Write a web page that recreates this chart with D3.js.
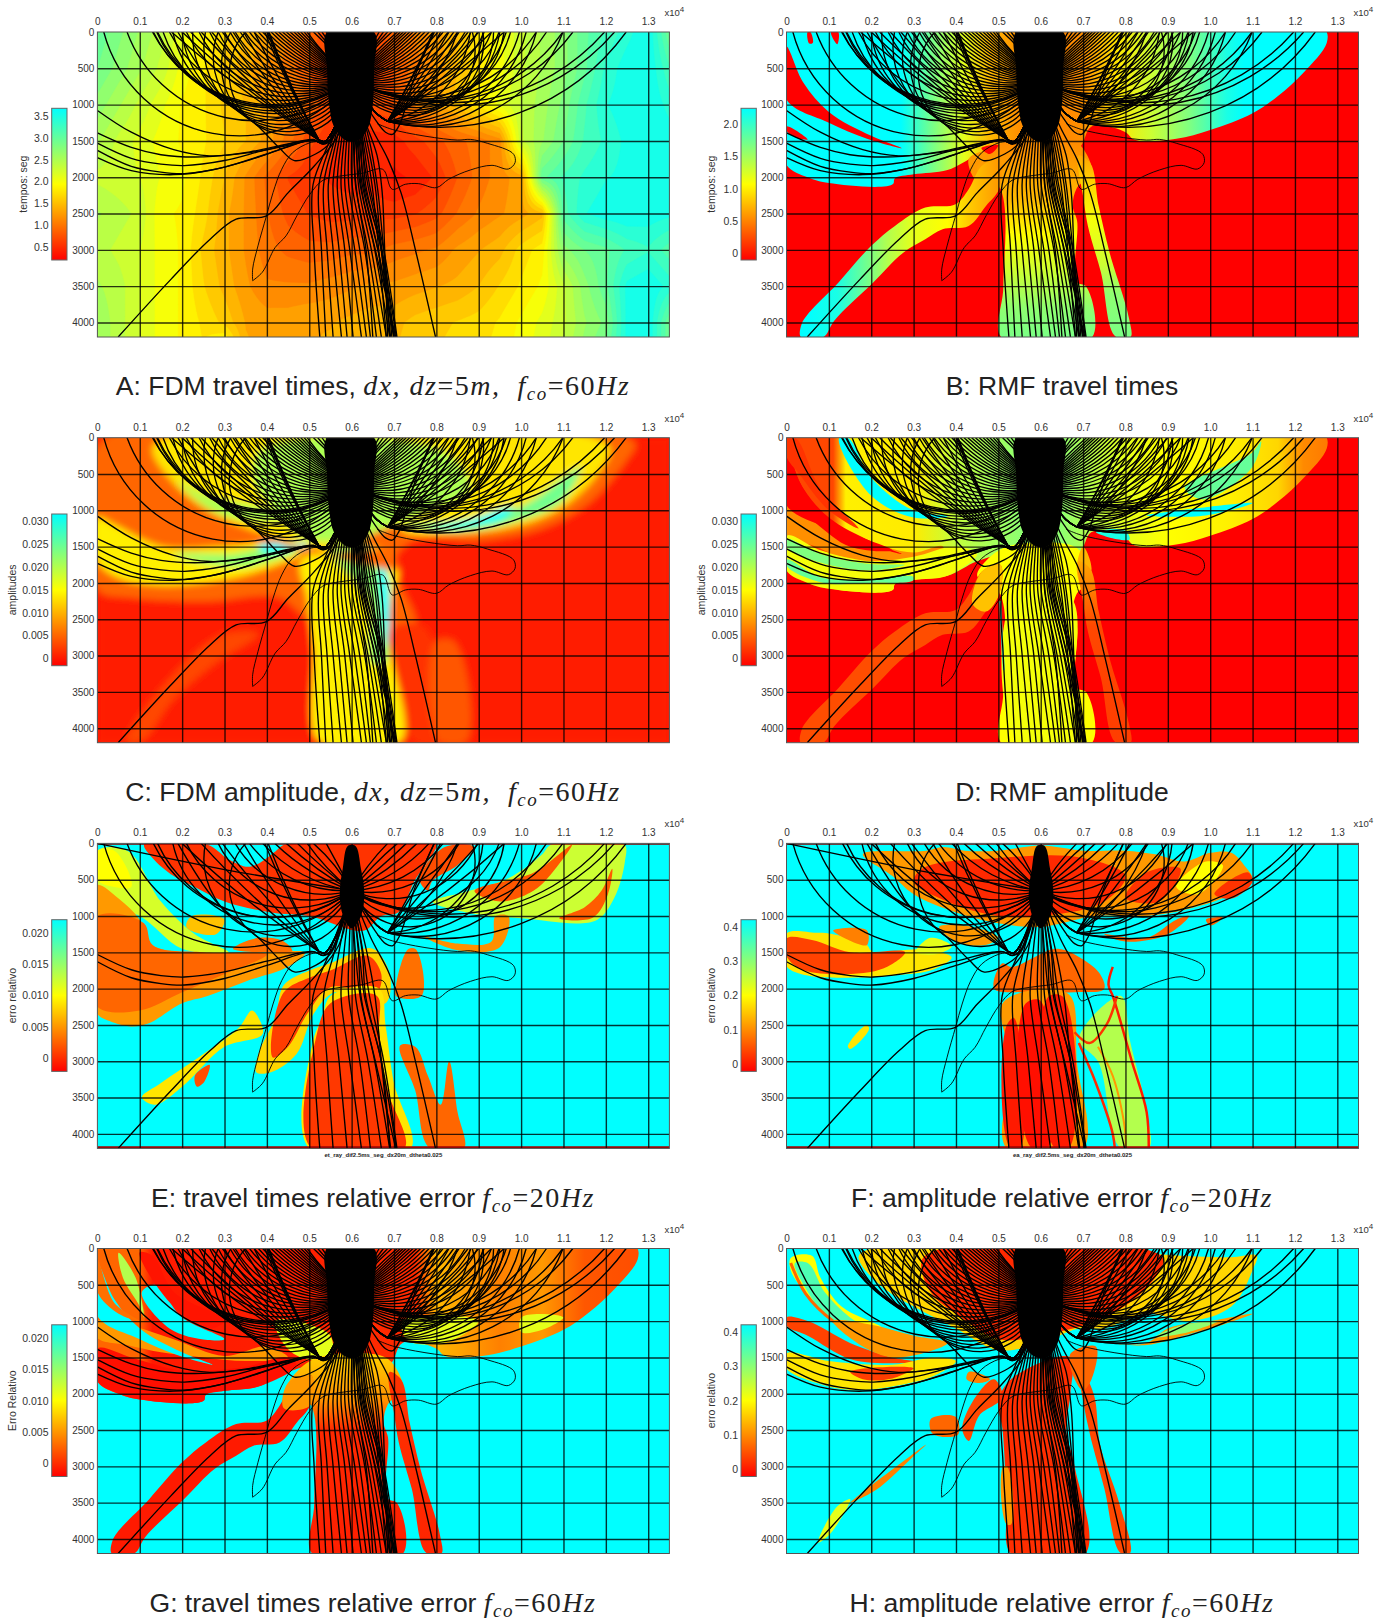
<!DOCTYPE html>
<html><head><meta charset="utf-8">
<script src="https://cdn.jsdelivr.net/npm/d3@7/dist/d3.min.js"></script>
<style>html,body{margin:0;background:#fff}svg{display:block}text{font-family:"Liberation Sans",Arial,sans-serif}</style>
</head><body><svg id="c" width="1390" height="1620"></svg>
<script>
// ---------- axis data ----------
const xTicks=[0,1000,2000,3000,4000,5000,6000,7000,8000,9000,10000,11000,12000,13000];
const zTicks=[0,500,1000,1500,2000,2500,3000,3500,4000];
const panelLefts=[97.4,786.5], panelTops=[32,437.7,843.4,1248.5];
// ---------- Panel A travel time grid (s), rows z=0..4000,4500; columns x=0..13500 step 500 ----------
const gridZ=[0,500,1000,1500,2000,2500,3000,3500,4000,4500];
const gridA=[
[3.0,2.8,2.6,2.4,2.1,1.9,1.7,1.5,1.3,1.1,.9,.7,.5,.7,.9,1.1,1.3,1.5,1.8,2.0,2.3,2.5,2.7,3.0,3.2,3.4,3.6,2.9],
[2.9,2.7,2.5,2.3,2.0,1.8,1.6,1.4,1.2,1.0,.8,.55,.4,.55,.8,1.0,1.25,1.5,1.75,2.0,2.3,2.5,2.7,3.0,3.35,3.55,3.6,3.2],
[2.7,2.5,2.3,2.1,1.9,1.8,1.6,1.5,1.3,1.2,.9,.7,.55,.7,.8,1.1,1.3,1.55,1.8,2.1,2.35,2.55,2.8,3.15,3.45,3.55,3.6,3.4],
[2.5,2.3,2.15,2.0,1.9,1.8,1.65,1.5,1.3,1.0,.7,.55,.45,.45,.45,.6,.75,.9,1.0,1.15,2.3,2.6,2.9,3.2,3.35,3.5,3.6,3.55],
[2.3,2.25,2.2,2.05,1.95,1.75,1.5,1.2,.9,.65,.55,.5,.45,.45,.35,.4,.55,.8,1.0,1.15,1.3,3.0,3.2,3.35,3.45,3.5,3.6,3.55],
[2.5,2.4,2.3,1.95,1.9,1.7,1.4,1.2,.95,.75,.65,.6,.6,.6,.6,.65,.75,.95,1.1,1.2,1.3,1.45,3.1,3.45,3.55,3.6,3.55,3.5],
[2.4,2.3,2.2,2.0,1.9,1.6,1.4,1.2,1.0,.9,.85,.85,.9,.9,1.0,1.05,1.1,1.25,1.35,1.45,1.7,1.85,2.7,2.9,3.0,3.2,3.3,3.1],
[2.5,2.4,2.2,2.0,1.9,1.65,1.45,1.25,1.1,1.1,1.1,1.15,1.2,1.25,1.25,1.3,1.35,1.4,1.5,1.65,1.8,1.95,2.3,2.7,3.0,3.5,3.6,3.4],
[2.6,2.4,2.2,2.0,1.9,1.75,1.6,1.35,1.3,1.3,1.35,1.35,1.4,1.45,1.45,1.55,1.6,1.65,1.7,1.8,1.95,2.1,2.3,2.6,2.8,3.5,3.6,2.9],
[2.6,2.4,2.2,2.0,1.9,1.8,2.2,1.4,1.3,1.3,1.35,1.4,1.45,1.5,1.5,1.6,1.65,1.7,1.75,1.85,2.0,2.15,2.4,2.7,3.0,3.5,3.6,2.9]];
// ---------- shared region outlines (x m, z m) ----------
const topLobe=[[0,0],[12750,0],[12750,150],[12200,560],[11600,880],[11000,1120],[10000,1350],[9200,1470],[8200,1480],[8000,1380],[7200,1300],[6900,1600],[6000,1700],[5200,1600],[4500,1700],[3800,1900],[3000,1960],[2550,2020],[2520,2090],[1000,2080],[500,2000],[0,1830]];
const wedge=[[0,200],[400,700],[1000,1100],[2000,1430],[2720,1600],[1900,1470],[1000,1250],[0,930]];
const sliver=[[0,1300],[500,1480],[250,1460],[0,1360]];
const midBand=[[4700,1700],[5200,1500],[6800,1500],[7100,1700],[7200,1950],[6850,2150],[6756,2400],[6858,2600],[6858,3450],[7063,3500],[7216,4200],[5066,4200],[5118,3500],[5015,2120],[4500,1900]];
const leftBand=[[4900,1750],[5050,1750],[5015,2166],[4708,2395],[4299,2670],[3685,2715],[3275,2853],[2763,3035],[2047,3448],[1126,3975],[870,4200],[338,4200],[358,4020],[1228,3448],[2000,2944],[2559,2670],[3275,2418],[3990,2372],[4299,2166],[4600,1850]];
const rightBand=[[6900,1700],[7164,1800],[7369,2395],[7625,3036],[8086,3950],[8120,4200],[7779,4200],[7420,3310],[7113,2670],[7011,2303]];
const clumpDense=[[5420,0],[6530,0],[6530,500],[6500,1000],[6400,1300],[6190,1480],[6000,1510],[5830,1480],[5580,1300],[5470,1000],[5420,500]];
const clumpSparse=[[5920,30],[6080,30],[6220,350],[6300,700],[6220,1000],[6000,1170],[5800,1000],[5720,700],[5790,350]];
const gBand={a:'z',s:[[1500,.27],[2300,.36],[2800,.5],[3300,.6],[3800,.72],[4200,.76]]};
const gLeft={a:'x',s:[[500,1],[1200,.95],[1800,.8],[2400,.65],[3000,.55],[3800,.5],[4300,.4],[5000,.3]]};
const gRight={a:'z',s:[[1600,.3],[2100,.42],[2600,.52],[3200,.6],[3600,.72],[4200,.76]]};
// ---------- layers per panel: v = position on colour ramp 0 red, .5 yellow, 1 cyan ----------
const layersB=[
 {p:topLobe,g:{a:'x',s:[[0,1],[2700,1],[3400,.78],[4200,.55],[4800,.36],[5500,.28],[6000,.25],[7000,.28],[7800,.45],[8600,.6],[9500,.75],[10400,.95],[10800,1],[13000,1]]}},
 {p:wedge,v:0},{p:sliver,v:0},
 {p:[[500,0],[560,0],[620,150],[540,160]],v:0},{p:[[1050,0],[1220,0],[1200,170]],v:0},
 {p:[[4300,1750],[4700,1650],[4900,1950],[4500,2050]],v:.3},
 {p:midBand,g:gBand},{p:leftBand,g:gLeft},{p:rightBand,g:gRight},
 {p:[[4600,1600],[5000,1560],[4800,1680]],v:0}];
const layersD=[
 {p:topLobe,g:{a:'x',s:[[0,.14],[1100,.14],[1400,.47],[3000,.46],[4000,.62],[5500,.72],[6500,.72],[8000,.55],[9000,.5],[10500,.47],[11600,.42],[12200,.27],[12750,.24]]}},
 {p:[[0,950],[700,1080],[1700,1370],[3000,1580],[3700,1500],[3600,1750],[3000,1880],[1500,1700],[700,1500],[0,1330]],v:.28},
 {p:[[0,1350],[800,1550],[2000,1700],[3000,1640],[4000,1500],[4500,1600],[3800,1900],[3000,1960],[2550,2020],[2520,2090],[1000,2080],[500,2000],[0,1830]],v:.52},
 {p:[[0,1400],[800,1600],[2000,1740],[2800,1750],[2000,1830],[800,1720],[0,1500]],v:.75},
 {p:[[0,1680],[800,1920],[1900,1950],[3000,1920],[3000,1960],[2000,2000],[800,1990],[0,1760]],v:.8},
 {p:[[1250,0],[1450,0],[2000,550],[3000,1000],[3800,1080],[3000,1100],[2000,800]],v:1},
 {p:wedge,v:0},{p:[[0,100],[300,600],[700,950],[1400,1270],[2500,1550],[1500,1500],[700,1180],[0,820]],v:0},
 {p:[[0,0],[200,0],[800,700],[1700,1250],[1000,1000],[300,500],[0,260]],v:.1},
 {p:[[9400,700],[11000,200],[11200,50],[11000,400],[9800,850]],v:.8},
 {p:[[8500,1070],[10000,950],[11000,900],[9900,1070]],v:1},
 {p:[[7300,1300],[8000,1280],[8100,1400],[7800,1400]],v:.95},
 {p:midBand,g:{a:'z',s:[[1500,.5],[4200,.5]]}},
 {p:[[5400,2200],[6700,2200],[6780,3500],[6900,4200],[5500,4200]],v:.52},
 {p:[[7000,1500],[7200,1800],[7000,2100],[6850,1800]],v:.35},
 {p:leftBand,v:.15},{p:[[4900,1750],[5050,1750],[5015,2166],[4708,2395],[4400,2300],[4600,1850]],v:.38},
 {p:rightBand,g:{a:'z',s:[[1600,.35],[2200,.22],[2600,.14],[4200,.12]]}},
 {s:[[5040,2250],[5080,2700],[5130,3200]],v:.9,w:2}];
const layersC=[
 {p:[[0,0],[13500,0],[13500,4200],[0,4200]],v:.06,r:1},
 {p:[[0,100],[12700,100],[12500,300],[11600,900],[10500,1250],[9000,1420],[7500,1400],[7000,1700],[7500,2600],[6800,2700],[5000,2500],[4300,2200],[2600,2250],[800,2200],[0,2100]],v:.2},
 {p:[[7000,2600],[7700,2600],[8200,4200],[7500,4200]],v:.1},{p:[[8000,2800],[8400,2800],[8700,4200],[8100,4200]],v:.17},
 {p:[[3000,2700],[3800,2700],[2800,3100],[1800,3600],[1000,4200],[700,4200],[1900,3200]],v:.14},
 {p:[[1300,150],[12100,150],[11800,500],[11000,950],[10000,1200],[8500,1320],[7200,1280],[7000,1100],[6000,1500],[5000,1500],[4600,1430],[3800,1300],[2600,1000],[1800,620]],v:.45},
 {p:[[3800,200],[8200,200],[8800,700],[7400,1100],[6000,1400],[5000,1400],[4200,1000],[3700,600]],v:.66},
 {p:[[1900,600],[2600,800],[3800,950],[4800,1100],[3700,1150],[2700,1000]],v:.66},
 {p:[[7200,1200],[8500,1150],[10000,950],[11000,550],[11400,400],[11000,850],[10000,1120],[8500,1290]],v:.78},
 {p:[[7800,1230],[8800,1130],[9800,950],[9600,1100],[8600,1230]],v:1},
 {p:[[0,1100],[400,1200],[1500,1500],[3000,1500],[4000,1450],[5000,1480],[4800,1600],[4000,1800],[3000,1950],[1500,2030],[500,1930],[0,1700]],v:.47},
 {p:[[1800,1600],[3200,1600],[4200,1480],[5000,1480],[4500,1620],[3300,1780]],v:.72},
 {p:[[3800,1490],[5000,1470],[4500,1560],[3900,1570]],v:1},
 {p:[[4800,1700],[5400,1550],[6800,1550],[7100,1800],[6950,2200],[6850,2700],[7150,4200],[5250,4200],[5100,2900],[4950,2200]],v:.47},
 {p:[[5500,1550],[6600,1550],[6800,2400],[6800,3100],[6500,3100],[6400,2200]],v:.72},
 {p:[[6650,1550],[6880,2000],[6820,2900],[6700,2400]],v:1},
 {p:[[3900,1350],[5100,1600],[6300,1550],[6800,1550],[7100,1800]],v:.2}];
const layersE=[
 {p:[[0,100],[700,100],[1500,800],[2300,1250],[3100,1500],[2000,1450],[1000,1000],[0,800]],v:.58},
 {p:[[0,100],[400,100],[800,600],[400,600],[0,500]],v:.5},
 {p:[[0,570],[500,760],[1000,1050],[1300,1400],[2000,1500],[3500,1530],[4900,1510],[4500,1700],[3500,1900],[2600,2100],[2000,2200],[1200,2480],[800,2520],[300,2450],[0,2350]],v:.3},
 {p:[[0,1000],[1100,1100],[1300,1400],[2500,1500],[4000,1530],[3000,1800],[2000,2050],[1000,2300],[0,2250]],v:.2},
 {p:[[2200,1010],[3000,1050],[2800,1250],[2100,1150]],v:.38},
 {p:[[3200,1450],[3800,1300],[4400,1350],[4600,1480],[3900,1500]],v:.22},
 {p:[[1100,20],[2600,20],[3100,220],[3600,320],[4200,110],[4400,20],[8000,20],[7800,250],[7500,500],[7100,950],[6700,1000],[6300,1200],[5000,1000],[4100,950],[3000,800],[2300,600],[1800,450],[1300,200]],v:.1},
 {p:[[7600,500],[8200,50],[8900,50],[8500,300],[7900,520],[7800,650]],v:.15},
 {p:[[7900,800],[8600,680],[9700,480],[10500,150],[10700,20],[12450,20],[12450,250],[12200,750],[11800,1050],[10000,1030],[8700,950]],v:.6},
 {p:[[8900,660],[10300,400],[11000,100],[11200,20],[10900,280],[10300,650],[9500,800]],v:.17},
 {p:[[10900,1030],[11700,1020],[12050,700],[12150,350],[11900,650],[11500,880]],v:.18},
 {p:[[7700,1280],[8500,1380],[9300,1350],[9400,1000],[9700,1000],[9500,1430],[8500,1470]],v:.28},
 {p:[[1050,3500],[1350,3600],[2000,3350],[3000,2800],[3900,2620],[3800,2400],[3650,2300],[3350,2530],[2500,2900],[1500,3300]],v:.45},
 {p:[[2300,3200],[2650,3050],[2500,3300],[2350,3350]],v:.15},
 {p:[[4100,3150],[3750,3150],[3800,2900],[4200,2400],[4400,1950],[5000,1750],[5500,1650],[6500,1450],[6900,1800],[6800,2200],[5600,2050],[5100,2350],[4700,2900]],v:.42},
 {p:[[4150,2950],[4400,2050],[5000,1850],[5500,1750],[6400,1550],[6700,1800],[6600,2050],[5500,1980],[4950,2350],[4500,2800]],v:.12},
 {p:[[5000,4200],[5100,2700],[5300,2400],[5500,2100],[6650,2000],[6800,2500],[7000,3300],[7400,4200]],v:.45},
 {p:[[5050,4200],[5150,2700],[5500,2200],[6600,2100],[6650,2600],[6850,3400],[7250,4200]],v:.11},
 {p:[[7150,2780],[7500,2800],[7800,3200],[8100,3600],[8300,3000],[8500,3700],[8650,4200],[7850,4200],[7500,3400]],v:.2},
 {p:[[7050,1950],[7350,1450],[7500,1450],[7650,2100],[7050,2100]],v:.22},
 {p:[[0,0],[13500,0],[13500,20],[0,20]],v:-.15,r:1},{p:[[0,4170],[13500,4170],[13500,4200],[0,4200]],v:-.1,r:1}];
const layersF=[
 {p:[[0,1240],[700,1230],[1000,1240],[1900,1400],[2000,1480],[3200,1460],[3900,1570],[3500,1730],[2500,1820],[1300,1850],[500,1820],[0,1690]],v:.45},
 {p:[[0,1310],[600,1330],[1500,1500],[2800,1500],[2300,1720],[1000,1800],[300,1720],[0,1550]],v:.13},
 {p:[[1100,1200],[1900,1200],[1900,1400]],v:.25},
 {p:[[1800,150],[3300,100],[3700,50],[4200,100],[5000,100],[6000,30],[7000,100],[8000,100],[8700,150],[9400,250],[10000,130],[10500,130],[10800,300],[11000,500],[10500,700],[9500,900],[8500,1000],[7300,1000],[6000,1150],[5000,1100],[4000,950],[3000,700],[2500,450]],v:.3},
 {p:[[3200,350],[5000,200],[7000,200],[8000,450],[7500,800],[6000,1000],[5000,1000],[3800,800],[3000,520]],v:.08},
 {p:[[8000,750],[8500,400],[9300,350],[8800,800]],v:.1},
 {p:[[9200,600],[9900,250],[10300,300],[9700,700]],v:.5},
 {p:[[10100,700],[10900,400],[11000,520],[10500,760]],v:.1},
 {p:[[3600,1150],[4400,1150],[5000,1300],[4700,1400],[4000,1350]],v:.3},
 {p:[[7500,1250],[8500,1300],[9200,1050],[9500,1000],[9000,1250],[8000,1350]],v:.2},
 {p:[[9900,1050],[10300,1020],[10000,1130]],v:.2},
 {p:[[3050,1500],[3400,1300],[3900,1420],[3500,1530]],v:.55},
 {p:[[1450,2800],[1900,2500],[1950,2550],[1500,2830]],v:.45},
 {p:[[4900,2000],[5100,1650],[5300,1700],[6400,1450],[7000,1600],[7400,1800],[7500,2000],[6800,2050],[5500,2050]],v:.2},
 {p:[[5100,2200],[6300,2000],[6700,2100],[6850,3000],[7000,4200],[5200,4200],[5300,3000]],v:.3},
 {p:[[5200,2500],[5350,2400],[5500,4200],[5300,4200]],v:.05},{p:[[5650,2200],[5950,2150],[6150,4200],[5800,4200]],v:.03},
 {p:[[6200,2100],[6500,2100],[6650,4200],[6350,4200]],v:.05},
 {p:[[7900,2100],[8100,2700],[8500,3700],[8550,4200],[7900,4200],[7350,3000],[6900,2700]],v:.65},
 {s:[[7700,1700],[7600,1950],[7700,2100],[8150,3000],[8500,3700],[8550,4200]],v:.05,w:2.5},
 {s:[[7800,2100],[7550,2500],[7150,2750],[6800,2600]],v:.1,w:2.5},
 {s:[[6900,2750],[7300,3300],[7700,4000],[7750,4200]],v:.08,w:2.5},
 {s:[[7350,2800],[7700,3200],[8000,4000],[8000,4200]],v:.3,w:2},
 {p:[[0,0],[13500,0],[13500,20],[0,20]],v:-.15,r:1},{p:[[0,4170],[13500,4170],[13500,4200],[0,4200]],v:-.1,r:1}];
const layersG=[
 {p:topLobe,g:{a:'x',s:[[0,.2],[1000,.2],[1300,.05],[5000,.06],[6000,.08],[7500,.08],[8000,.36],[9500,.25],[10500,.3],[11500,.17],[12750,.15]]}},
 {p:[[0,1000],[700,1050],[1800,1250],[3000,1480],[4000,1350],[4500,1500],[3500,1550],[2500,1500],[1500,1430],[700,1330],[0,1230]],v:.3},
 {p:[[0,1380],[800,1500],[2000,1680],[3400,1640],[4500,1500],[4700,1600],[3800,1900],[3000,1960],[2550,2020],[2520,2090],[1000,2080],[500,2000],[0,1830]],v:.03},
 {p:[[4200,1000],[5500,1200],[5500,1500],[4800,1500],[4400,1320]],v:.55},
 {p:[[7200,1000],[9000,1000],[8300,1280],[7300,1260]],v:.55},
 {p:[[10000,950],[11000,950],[10500,1120],[10000,1150]],v:.55},
 {p:[[0,200],[500,200],[1000,650],[1100,1000],[0,900]],v:.2},
 {p:wedge,v:1},{p:[[0,150],[400,750],[1000,1000],[500,900],[0,600]],v:.22},
 {p:[[500,60],[900,400],[1100,950],[1000,800],[600,400]],v:.65},
 {p:[[1050,600],[1350,500],[2000,950],[3000,1250],[2600,1260],[1700,1100]],v:1},
 {p:[[1300,100],[1000,50],[1800,800],[2700,1100],[3000,1000],[1800,600]],v:.04},
 {p:midBand,g:{a:'z',s:[[1500,.4],[2100,.28],[2500,.08],[4200,.06]]}},
 {p:leftBand,v:.05},{p:[[4500,1850],[5050,1750],[5015,2166],[4400,2200]],v:.3},
 {p:rightBand,g:{a:'z',s:[[1600,.1],[4200,.07]]}}];
const layersH=[
 {p:[[100,130],[600,100],[800,400],[1300,800],[2300,1100],[3000,1450],[2600,1450],[1500,1100],[600,700],[100,300]],v:.5},
 {p:[[200,200],[500,200],[900,600],[1500,950],[2400,1250],[2000,1240],[1000,950],[400,500]],v:.85},
 {s:[[100,200],[450,620],[1100,1000],[2000,1300],[2900,1450]],v:.2,w:3},
 {p:[[1700,120],[10500,120],[11100,100],[11000,300],[10500,800],[9500,1000],[8500,900],[7500,1100],[6900,1100],[6000,1300],[5000,1400],[4000,1100],[3000,800],[2200,500]],v:.42},
 {p:[[3200,150],[8900,150],[8400,600],[7500,950],[6000,1200],[5000,1250],[4000,900],[3400,600]],v:.08},
 {p:[[0,950],[500,1000],[1500,1300],[2500,1500],[3100,1560],[2500,1580],[1500,1520],[500,1200],[0,1060]],v:.13},
 {p:[[1100,1000],[2000,1050],[3000,1200],[3800,1300],[3300,1430],[2500,1500],[1800,1350]],v:.3},
 {p:[[0,1450],[1000,1550],[2500,1600],[3500,1500],[4000,1550],[3500,1750],[2500,1900],[1500,1950],[700,1850],[0,1650]],v:.45},
 {p:[[1500,1700],[3000,1650],[2500,1790],[1800,1800]],v:.12},
 {p:[[4900,1800],[4400,2100],[4150,2500],[4300,2650],[4550,2300],[5100,2050]],v:.14},
 {p:[[3400,2350],[4000,2320],[4050,2560],[3450,2550]],v:.2},
 {p:[[4300,1700],[4800,1800],[4600,1850],[4250,1800]],v:.25},
 {p:[[3300,2700],[2600,3000],[1700,3400],[1500,3500],[2100,3330],[3000,2860]],v:.25},
 {p:[[1200,3550],[1500,3450],[1000,3950],[750,4050]],v:.55},
 {p:[[5000,2100],[5300,1800],[6700,1500],[6700,2000],[6600,2500],[6800,3000],[7050,4200],[5300,4200],[5200,3500],[5100,2500]],v:.09},
 {p:[[5120,3000],[5200,3000],[5300,3800],[5200,3800]],v:.3},
 {p:[[6900,1600],[7250,2000],[7400,2700],[7850,3500],[8100,4200],[7900,4200],[7500,3300],[7100,2400]],v:.14},
 {p:[[6700,1450],[7300,1350],[7200,1800],[7000,1950],[6800,1800]],v:.2},
 {p:[[7800,1320],[8500,1300],[9000,1100],[10000,1000],[11000,900],[10300,1050],[9500,1180],[8500,1330]],v:.3},
 {p:[[8700,1220],[9200,1080],[10200,1000],[9500,1150]],v:.72}];
// ---------- rays (x m, z m) ----------
const source=[6000,650];
const fanLeftZ=[40,80,120,160,195,230,265,300,335,370,405,440,475,510,545,580,615,650,685,720,750,780,810,840,870,900,930,945,965,1000,1040,1090,1140,1200,1260,1320,1380];
const fanLeftL=[4950,4880,4800,4720,4640,4550,4460,4370,4280,4190,4100,4000,3900,3800,3700,3590,3480,3370,3250,3130,3000,2850,2650,2400,2100,1700,1300,1320,1400,1550,1780,2000,2250,2550,2850,3150,3500];
const fanRightZ=[40,80,120,160,200,240,280,320,360,400,440,480,520,560,600,640,680,720,760,800,840,880,920,960,1000,1040,1080,1120];
const fanRightL=[7080,7150,7220,7290,7370,7450,7540,7630,7730,7830,7930,8040,8160,8280,8410,8540,8680,8820,8970,9130,9300,9480,9650,9750,9600,9350,9100,8850];
const nearFan=[[5400,5700,320],[5300,5650,300],[5200,5600,280],[5100,5550,270],[6650,6330,320],[6750,6380,300],[6850,6430,280],[6950,6480,270]];
const wideFan=[[700,3800,1220,1],[150,3300,1430,1],[1420,3800,1010,1],[12206,9600,930,1],[11970,9400,900,1],[11222,9000,880,0],[10986,8900,860,1],[10600,8700,840,1],[10360,8500,820,0]];
const foldLeftP=[5230,1490];
const foldLeftL=[4050,4030,4000,3950,3700,3450,3200,2950,2700,2450,2200,2000,1750];
const foldRightP=[6850,1230];
const foldRightL=[7950,7920,8100,8300,8500,8750,9000,9300,9600];
const rightFar=[[12480,8000,1310],[10990,7800,1300],[10360,7700,1280],[10120,7600,1250],[9960,7500,1230],[9500,7500,1200],[9100,7400,1180],[8800,7300,1150],[8500,7100,1130]];
const leftLong=[
 {r:[[0,1080],[800,1380],[1800,1620],[2650,1705],[3600,1660],[4500,1560],[5100,1490],[5300,1530],[5480,1490],[5800,1000],[6000,650]],sparse:0},
 {r:[[0,1390],[800,1590],[1500,1690],[2500,1720],[3600,1650],[4500,1540],[5100,1480],[5300,1530],[5500,1480],[5800,1000],[6000,650]],sparse:0},
 {r:[[0,1530],[800,1740],[1500,1820],[2050,1840],[3000,1770],[4000,1620],[5100,1490],[5320,1540],[5500,1490],[5800,1000],[6000,650]],sparse:1},
 {r:[[0,1630],[800,1850],[1500,1930],[2050,1950],[3000,1860],[4000,1680],[5100,1490],[5340,1545],[5520,1480],[5800,1000],[6000,650]],sparse:1},
 {r:[[0,1730],[800,1910],[1800,1965],[2700,1900],[3600,1760],[4400,1600],[5050,1490],[5300,1520],[5500,1480],[5800,1000],[6000,650]],sparse:0},
 {r:[[1900,0],[2800,800],[3800,1300],[4300,1600],[4650,1770],[5150,1680],[5500,1520],[5800,1100],[6000,650]],sparse:1},
 {r:[[3990,2532],[3275,2578],[2661,2853],[1740,3403],[490,4200]],pre:[[6000,650],[5700,1400],[5118,1845],[4504,2212]],sparse:1},
 {r:[[7980,4200],[7520,3036],[7165,2212],[6858,1754],[6450,1295],[6000,650]],sparse:1},
 {r:[[7950,0],[7500,600],[7113,1296],[6960,1410],[6800,1380],[6550,1200],[6000,650]],sparse:1},
 {r:[[6850,4200],[6780,3000],[6720,2200],[6600,1700],[6300,1200],[6000,650]],sparse:0},
 {r:[[0,0],[3000,360],[6000,650]],sparse:2}];
const downX1500=[5480,5530,5590,5640,5700,5760,5820,5880,5940,6000,6060,6110,6160,6210,6250,6040,6090,6130,6180,6230,6270,6310,6360,6420];
const downX2100=[5090,5230,5340,5450,5560,5660,5750,5840,5930,6010,6090,6160,6220,6280,6330,6100,6200,6250,6300,6380,6420,6480,6550,6600];
const downX3000=[5115,5288,5421,5563,5704,5838,5956,6074,6192,6310,6388,6466,6545,6624,6702,6340,6560,6620,6700,6720,6760,6640,6700,6760];
const downX4200=[5249,5390,5563,5760,5893,6035,6231,6349,6443,6585,6702,6820,6899,6993,7056,6500,7040,7000,6900,6950,7070,6820,6920,7000];
const frontA=[[3664,3425],[3664,3265],[3790,2945],[3990,2532],[4145,2212],[4350,1890],[4606,1662],[5015,1525],[5300,1500]];
const frontB=[[3664,3425],[3890,3310],[4196,2967],[4452,2807],[4708,2532],[5015,2234],[5322,2042],[5732,1983],[6244,1946],[6735,1891],[6960,2166],[7267,2097],[7574,2088],[8004,2143],[8290,2028],[8802,1900],[9314,1836],[9703,1886],[9857,1800],[9826,1685],[9212,1534],[8802,1479],[8495,1488],[6960,1342],[6600,1260]];
// ---------- labels ----------
const colorStops=["#ff0000","#ffff00","#00ffff"];
const panels=[
 {id:'A',c:0,r:0,layers:null,dense:1,ticks:[.5,1,1.5,2,2.5,3,3.5],fmt:'.1f',lo:.195,hi:3.68,lab:'tempos: seg',labX:27,tx:48.5},
 {id:'B',c:1,r:0,layers:layersB,dense:1,ticks:[0,.5,1,1.5,2],fmt:null,lo:-.11,hi:2.25,lab:'tempos: seg',labX:715,tx:738,base:0},
 {id:'C',c:0,r:1,layers:layersC,blur:3.5,dense:1,ticks:[0,.005,.01,.015,.02,.025,.03],fmt:'c',lo:-.0016,hi:.0316,lab:'amplitudes',labX:15.5,tx:48.5,base:.05},
 {id:'D',c:1,r:1,layers:layersD,dense:1,ticks:[0,.005,.01,.015,.02,.025,.03],fmt:'c',lo:-.0016,hi:.0316,lab:'amplitudes',labX:705,tx:738,base:0},
 {id:'E',c:0,r:2,layers:layersE,dense:0,ticks:[0,.005,.01,.015,.02],fmt:'c',lo:-.0021,hi:.0221,lab:'erro relativo',labX:15.5,tx:48.5,base:1,note:'et_ray_dif2.5ms_seg_dx20m_dtheta0.025'},
 {id:'F',c:1,r:2,layers:layersF,dense:0,ticks:[0,.1,.2,.3,.4],fmt:null,lo:-.0209,hi:.421,lab:'erro relativo',labX:715,tx:738,base:1,note:'ea_ray_dif2.5ms_seg_dx20m_dtheta0.025'},
 {id:'G',c:0,r:3,layers:layersG,dense:1,ticks:[0,.005,.01,.015,.02],fmt:'c',lo:-.0021,hi:.0221,lab:'Erro Relativo',labX:15.5,tx:48.5,base:1},
 {id:'H',c:1,r:3,layers:layersH,dense:1,ticks:[0,.1,.2,.3,.4],fmt:null,lo:-.0209,hi:.421,lab:'erro relativo',labX:715,tx:738,base:1}];
const titles={
 A:[['A: FDM travel times, ','s'],['dx, dz','i'],['=','m'],['5','m'],['m, ','i'],[' ','m'],['f','i'],['co','b'],['=','m'],['60','m'],['Hz','i']],
 B:[['B: RMF travel times','s']],
 C:[['C: FDM amplitude, ','s'],['dx, dz','i'],['=','m'],['5','m'],['m, ','i'],[' ','m'],['f','i'],['co','b'],['=','m'],['60','m'],['Hz','i']],
 D:[['D: RMF amplitude','s']],
 E:[['E: travel times relative error ','s'],['f','i'],['co','b'],['=','m'],['20','m'],['Hz','i']],
 F:[['F: amplitude relative error ','s'],['f','i'],['co','b'],['=','m'],['20','m'],['Hz','i']],
 G:[['G: travel times relative error ','s'],['f','i'],['co','b'],['=','m'],['60','m'],['Hz','i']],
 H:[['H: amplitude relative error ','s'],['f','i'],['co','b'],['=','m'],['60','m'],['Hz','i']]};
const titleY=[394.8,801,1207,1612], titleX=[373,1062];
// ---------- drawing ----------
const W=572,H=305;
const svg=d3.select('#c'),defs=svg.append('defs');
const x=d3.scaleLinear().domain([0,13500]).range([0,W]);
const z=d3.scaleLinear().domain([0,4200]).range([0,H]);
const ramp=d3.scaleLinear().domain([0,.5,1]).range(colorStops).clamp(true);
const col=v=>v<0?d3.rgb(200+v*400,0,0)+'':ramp(v);
defs.append('filter').attr('id','b35').attr('x','-5%').attr('y','-5%').attr('width','110%').attr('height','110%').append('feGaussianBlur').attr('stdDeviation',3.5);
let gid=0;
const closed=d3.line().x(d=>x(d[0])).y(d=>z(d[1])).curve(d3.curveCatmullRomClosed.alpha(.6));
const rectLine=d3.line().x(d=>x(d[0])).y(d=>z(d[1])).curve(d3.curveLinearClosed);
const open=d3.line().x(d=>x(d[0])).y(d=>z(d[1])).curve(d3.curveCatmullRom.alpha(.6));
function gradFill(g){
 const id='g'+(gid++),ps=g.s.map(d=>d[0]),a=ps[0],b=ps[ps.length-1];
 const lg=defs.append('linearGradient').attr('id',id).attr('gradientUnits','userSpaceOnUse');
 if(g.a==='x')lg.attr('x1',x(a)).attr('x2',x(b)).attr('y1',0).attr('y2',0);
 else lg.attr('x1',0).attr('x2',0).attr('y1',z(a)).attr('y2',z(b));
 g.s.forEach(d=>lg.append('stop').attr('offset',(d[0]-a)/(b-a)).attr('stop-color',col(d[1])));
 return `url(#${id})`;
}
function arc3(P,M,L){
 const a=[x(P[0]),z(P[1])],b=[x(M[0]),z(M[1])],c=[x(L[0]),z(L[1])];
 const d=2*(a[0]*(b[1]-c[1])+b[0]*(c[1]-a[1])+c[0]*(a[1]-b[1]));
 if(Math.abs(d)<1e-6)return `M${a}L${c}`;
 const s=p=>p[0]*p[0]+p[1]*p[1];
 const ux=(s(a)*(b[1]-c[1])+s(b)*(c[1]-a[1])+s(c)*(a[1]-b[1]))/d,uy=(s(a)*(c[0]-b[0])+s(b)*(a[0]-c[0])+s(c)*(b[0]-a[0]))/d;
 const r=Math.hypot(a[0]-ux,a[1]-uy);
 const cr=(b[0]-a[0])*(c[1]-a[1])-(b[1]-a[1])*(c[0]-a[0]);
 const sweep=cr>0?1:0;
 const norm=t=>(t%(2*Math.PI)+2*Math.PI)%(2*Math.PI);
 const a0=Math.atan2(a[1]-uy,a[0]-ux),a2=Math.atan2(c[1]-uy,c[0]-ux);
 const span=sweep?norm(a2-a0):norm(a0-a2);
 return `M${a[0]},${a[1]}A${r},${r} 0 ${span>Math.PI?1:0} ${sweep} ${c[0]},${c[1]}`;
}
function drawRays(g,dense){
 const ray=d=>g.append('path').attr('d',d).attr('fill','none').attr('stroke','#000').attr('stroke-width',1.35);
 const k=dense?1:3;
 g.append('path').attr('d',closed(dense?clumpDense:clumpSparse)).attr('fill','#000');
 fanLeftL.forEach((L,i)=>{if(i%k===0)ray(arc3(source,[5000,fanLeftZ[i]],[L,0]));});
 fanRightL.forEach((L,i)=>{if(i%k===0)ray(arc3(source,[7000,fanRightZ[i]],[L,0]));});
 nearFan.forEach((f,i)=>{if(i%k===0)ray(arc3(source,[f[1],f[2]],[f[0],0]));});
 wideFan.forEach(f=>{if(dense||f[3])ray(arc3(source,[f[1],f[2]],[f[0],0]));});
 foldLeftL.forEach((L,i)=>{if(dense||i%2===1){
  ray(open([source,[5650,1250],[5360,1510],foldLeftP]));
  ray(arc3(foldLeftP,[(foldLeftP[0]+L)/2,(foldLeftP[1])/2+70],[L,0]));}});
 foldRightL.forEach((L,i)=>{if(dense||i%2===0){
  ray(open([source,[6600,1130],foldRightP]));
  ray(arc3(foldRightP,[(foldRightP[0]+L)/2,foldRightP[1]/2+50],[L,0]));}});
 rightFar.forEach((f,i)=>{if(dense||i%2===0)ray(arc3(foldRightP,[f[1],f[2]],[f[0],0]));});
 leftLong.forEach(o=>{if(dense?o.sparse!==2:o.sparse>0)ray(open((o.pre||[]).concat(o.r)));});
 downX4200.forEach((v,i)=>{if(dense||i%2===0)ray(open([source,[downX1500[i],1500],[downX2100[i],2100],[downX3000[i],3000],[v,4200]]));});
 [frontA,frontB].forEach(f=>g.append('path').attr('d',open(f)).attr('fill','none').attr('stroke','#000').attr('stroke-width',.9));
}
function drawField(g){
 const m=6,nx=gridA[0].length,ny=gridA.length,W2=(nx-1)*m+1,H2=(ny-1)*m+1,vals=[];
 for(let j=0;j<H2;j++)for(let i=0;i<W2;i++){
  const fx=i/m,fy=j/m,i0=Math.min(Math.floor(fx),nx-2),j0=Math.min(Math.floor(fy),ny-2),tx=fx-i0,ty=fy-j0;
  vals.push(d3.interpolateNumber(d3.interpolateNumber(gridA[j0][i0],gridA[j0][i0+1])(tx),d3.interpolateNumber(gridA[j0+1][i0],gridA[j0+1][i0+1])(tx))(ty));}
 const th=d3.range(.1,3.75,.14);
 const cs=d3.contours().size([W2,H2]).thresholds(th)(vals);
 const gx=d3.scaleLinear().domain([0,W2-1]).range([x(0),x(13500)]),gz=d3.scaleLinear().domain([0,H2-1]).range([z(0),z(4500)]);
 const path=d3.geoPath(d3.geoTransform({point(a,b){this.stream.point(gx(a-.5),gz(b-.5));}}));
 const tc=d3.scaleLinear().domain([.195,3.68]).range([0,1]);
 g.selectAll('path.f').data(cs).join('path').attr('d',path).attr('fill',d=>ramp(tc(d.value+.07))).attr('stroke',d=>ramp(tc(d.value+.07))).attr('stroke-width',.4);
}
panels.forEach((p,idx)=>{
 const ox=panelLefts[p.c],oy=panelTops[p.r];
 const cid='clip'+p.id;
 defs.append('clipPath').attr('id',cid).append('rect').attr('width',W).attr('height',H);
 const root=svg.append('g').attr('transform',`translate(${ox},${oy})`);
 const pg=root.append('g').attr('clip-path',`url(#${cid})`);
 if(p.layers){
  pg.append('rect').attr('width',W).attr('height',H).attr('fill',col(p.base));
  const lg=pg.append('g'); if(p.blur)lg.attr('filter','url(#b35)');
  p.layers.forEach(l=>{
   if(l.s){lg.append('path').attr('d',open(l.s)).attr('fill','none').attr('stroke',col(l.v)).attr('stroke-width',l.w);return;}
   lg.append('path').attr('d',(l.r?rectLine:closed)(l.p)).attr('fill',l.g?gradFill(l.g):col(l.v));
  });
 } else drawField(pg);
 drawRays(pg,p.dense);
 // grid with D3 axes
 const gx=pg.append('g').attr('transform',`translate(0,${H})`).call(d3.axisTop(x).tickValues(xTicks.slice(1)).tickSize(H).tickFormat(''));
 const gy=pg.append('g').call(d3.axisRight(z).tickValues(zTicks.slice(1)).tickSize(W).tickFormat(''));
 [gx,gy].forEach(s=>{s.select('.domain').remove();s.selectAll('line').attr('stroke','#000').attr('stroke-width',1.4).attr('stroke-opacity',.8);});
 root.append('rect').attr('width',W).attr('height',H).attr('fill','none').attr('stroke','#555').attr('stroke-width',1);
 // tick labels
 const tx=root.append('g').call(d3.axisTop(x).tickValues(xTicks).tickSize(0).tickPadding(7).tickFormat(d=>d===0?'0':(d/1e4).toFixed(1)));
 const ty=root.append('g').call(d3.axisLeft(z).tickValues(zTicks).tickSize(0).tickPadding(3).tickFormat(d3.format('d')));
 [tx,ty].forEach(s=>{s.select('.domain').remove();s.selectAll('text').attr('font-size',10).attr('font-family','Liberation Sans').attr('fill','#333');});
 root.append('text').attr('x',W-5).attr('y',-16).attr('font-size',9.5).attr('fill','#333').text('x10').append('tspan').attr('dy',-4).attr('font-size',8).text('4');
 if(p.note)root.append('text').attr('x',W/2).attr('y',H+9).attr('text-anchor','middle').attr('font-size',6).attr('font-weight','bold').attr('fill','#222').text(p.note);
 // colour bar
 const by0=oy+76.3,by1=oy+228,bx=p.c?741:51.7,bw=15.3;
 const cb=d3.scaleLinear().domain([p.lo,p.hi]).range([by1,by0]);
 const bid='bar'+p.id,bg=defs.append('linearGradient').attr('id',bid).attr('x1',0).attr('x2',0).attr('y1',1).attr('y2',0);
 [0,.5,1].forEach((o,i)=>bg.append('stop').attr('offset',o).attr('stop-color',colorStops[i]));
 svg.append('rect').attr('x',bx).attr('y',by0).attr('width',bw).attr('height',by1-by0).attr('fill',`url(#${bid})`).attr('stroke','#666').attr('stroke-width',1);
 const f=p.fmt==='c'?(d=>d===0?'0':d.toFixed(3)):p.fmt?d3.format(p.fmt):(d=>d===0?'0':d.toFixed(1));
 const ax=svg.append('g').attr('transform',`translate(${p.tx},0)`).call(d3.axisLeft(cb).tickValues(p.ticks).tickSize(0).tickPadding(0).tickFormat(f));
 ax.select('.domain').remove();ax.selectAll('text').attr('font-size',10.5).attr('font-family','Liberation Sans').attr('fill','#333');
 svg.append('text').attr('transform',`translate(${p.labX},${(by0+by1)/2}) rotate(-90)`).attr('text-anchor','middle').attr('font-size',10.5).attr('fill','#333').text(p.lab);
 // title
 const t=svg.append('text').attr('x',titleX[p.c]).attr('y',titleY[p.r]).attr('text-anchor','middle').attr('fill','#222');
 titles[p.id].forEach((s,i)=>{
  const sp=t.append('tspan').text(s[0]).attr('xml:space','preserve');
  if(s[1]==='s')sp.attr('font-family','Liberation Sans').attr('font-size',26.5);
  else{sp.attr('font-family','Liberation Serif').attr('font-size',s[1]==='b'?19:28).attr('font-style',s[1]==='m'?'normal':'italic').attr('letter-spacing',1.5);}
  if(s[1]==='b')sp.attr('dy',5);
  else if(i&&titles[p.id][i-1][1]==='b')sp.attr('dy',-5);
 });
});
</script></body></html>
